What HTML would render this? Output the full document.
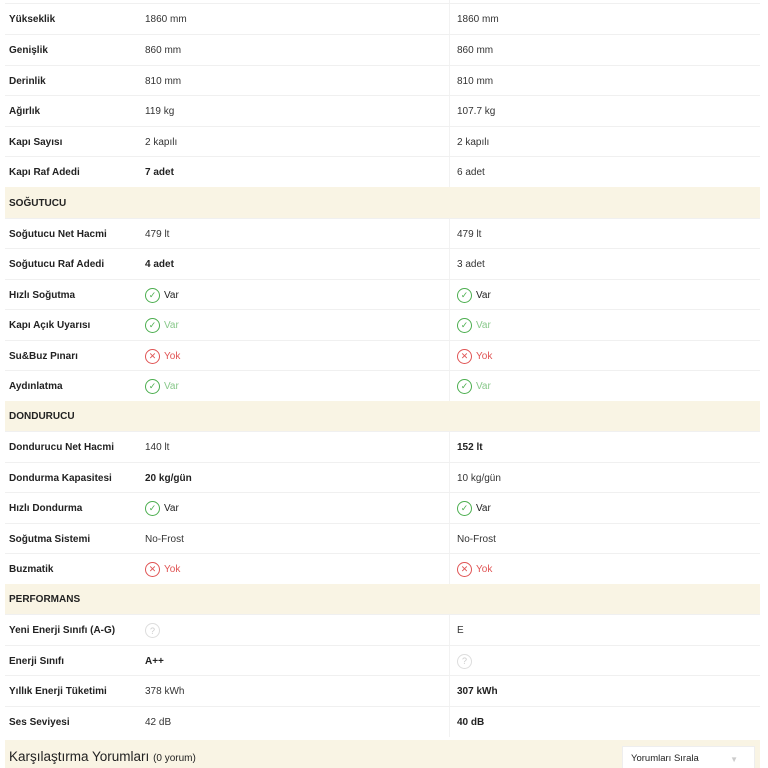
<!DOCTYPE html><html><head><meta charset="utf-8"><style>
body{margin:0;width:768px;height:768px;overflow:hidden;background:#fff;font-family:"Liberation Sans",sans-serif;font-size:10px;color:#333;position:relative}
.r{position:absolute;left:5px;width:755px;height:30.5px;border-top:1px solid #f0f0f0;box-sizing:border-box}
.r div{position:absolute;top:1px;height:100%;display:flex;align-items:center;white-space:nowrap}
.l{left:4px;font-weight:bold;color:#222}
.a{left:140px}.b{left:452px}
.vd{position:absolute;left:449px;top:0;height:737px;border-left:1px solid #f2f2f2}
.h{position:absolute;left:5px;width:755px;height:30.5px;background:#f9f4e4}
.h div{position:absolute;left:4px;top:1px;height:100%;display:flex;align-items:center;font-weight:bold;color:#222}
.bo{font-weight:bold;color:#222}
.ic{display:inline-flex;align-items:center;justify-content:center;width:13px;height:13px;border-radius:50%;border:1.3px solid;margin-right:4px;font-size:9px}
.g{border-color:#4cae4f;color:#4cae4f}.x{border-color:#e05454;color:#e05454}.q{border-color:#ddd;color:#ccc}
.gt{color:#222}.gl{color:#88c88a}.rt{color:#e05454}
</style></head><body>
<div class="vd"></div>
<div class="r" style="top:3px"><div class="l">Yükseklik</div><div class="a">1860 mm</div><div class="b">1860 mm</div></div>
<div class="r" style="top:34px"><div class="l">Genişlik</div><div class="a">860 mm</div><div class="b">860 mm</div></div>
<div class="r" style="top:64.5px"><div class="l">Derinlik</div><div class="a">810 mm</div><div class="b">810 mm</div></div>
<div class="r" style="top:95px"><div class="l">Ağırlık</div><div class="a">119 kg</div><div class="b">107.7 kg</div></div>
<div class="r" style="top:125.5px"><div class="l">Kapı Sayısı</div><div class="a">2 kapılı</div><div class="b">2 kapılı</div></div>
<div class="r" style="top:156px"><div class="l">Kapı Raf Adedi</div><div class="a bo">7 adet</div><div class="b">6 adet</div></div>
<div class="h" style="top:187px"><div>SOĞUTUCU</div></div>
<div class="r" style="top:217.5px"><div class="l">Soğutucu Net Hacmi</div><div class="a">479 lt</div><div class="b">479 lt</div></div>
<div class="r" style="top:248px"><div class="l">Soğutucu Raf Adedi</div><div class="a bo">4 adet</div><div class="b">3 adet</div></div>
<div class="r" style="top:278.5px"><div class="l">Hızlı Soğutma</div><div class="a"><span class="ic g">✓</span><span class="gt">Var</span></div><div class="b"><span class="ic g">✓</span><span class="gt">Var</span></div></div>
<div class="r" style="top:309px"><div class="l">Kapı Açık Uyarısı</div><div class="a"><span class="ic g">✓</span><span class="gl">Var</span></div><div class="b"><span class="ic g">✓</span><span class="gl">Var</span></div></div>
<div class="r" style="top:339.5px"><div class="l">Su&amp;Buz Pınarı</div><div class="a"><span class="ic x">✕</span><span class="rt">Yok</span></div><div class="b"><span class="ic x">✕</span><span class="rt">Yok</span></div></div>
<div class="r" style="top:370px"><div class="l">Aydınlatma</div><div class="a"><span class="ic g">✓</span><span class="gl">Var</span></div><div class="b"><span class="ic g">✓</span><span class="gl">Var</span></div></div>
<div class="h" style="top:400.5px"><div>DONDURUCU</div></div>
<div class="r" style="top:431px"><div class="l">Dondurucu Net Hacmi</div><div class="a">140 lt</div><div class="b bo">152 lt</div></div>
<div class="r" style="top:461.5px"><div class="l">Dondurma Kapasitesi</div><div class="a bo">20 kg/gün</div><div class="b">10 kg/gün</div></div>
<div class="r" style="top:492px"><div class="l">Hızlı Dondurma</div><div class="a"><span class="ic g">✓</span><span class="gt">Var</span></div><div class="b"><span class="ic g">✓</span><span class="gt">Var</span></div></div>
<div class="r" style="top:522.5px"><div class="l">Soğutma Sistemi</div><div class="a">No-Frost</div><div class="b">No-Frost</div></div>
<div class="r" style="top:553px"><div class="l">Buzmatik</div><div class="a"><span class="ic x">✕</span><span class="rt">Yok</span></div><div class="b"><span class="ic x">✕</span><span class="rt">Yok</span></div></div>
<div class="h" style="top:583.5px"><div>PERFORMANS</div></div>
<div class="r" style="top:614px"><div class="l">Yeni Enerji Sınıfı (A-G)</div><div class="a"><span class="ic q">?</span></div><div class="b">E</div></div>
<div class="r" style="top:644.5px"><div class="l">Enerji Sınıfı</div><div class="a bo">A++</div><div class="b"><span class="ic q">?</span></div></div>
<div class="r" style="top:675px"><div class="l">Yıllık Enerji Tüketimi</div><div class="a">378 kWh</div><div class="b bo">307 kWh</div></div>
<div class="r" style="top:705.5px"><div class="l">Ses Seviyesi</div><div class="a">42 dB</div><div class="b bo">40 dB</div></div>
<div style="position:absolute;left:5px;top:740px;width:755px;height:28px;background:#f9f4e4"></div>
<div style="position:absolute;left:9px;top:749px;font-size:13.5px;color:#222;white-space:nowrap">Karşılaştırma Yorumları <span style="font-size:10px">(0 yorum)</span></div>
<div style="position:absolute;left:622px;top:746px;width:133px;height:22px;background:#fff;border:1px solid #eee;border-bottom:none;box-sizing:border-box;font-size:9.5px;color:#222;padding:6px 0 0 8px">Yorumları Sırala<span style="position:absolute;right:16px;top:8px;color:#ccc;font-size:8px">▼</span></div>
</body></html>
